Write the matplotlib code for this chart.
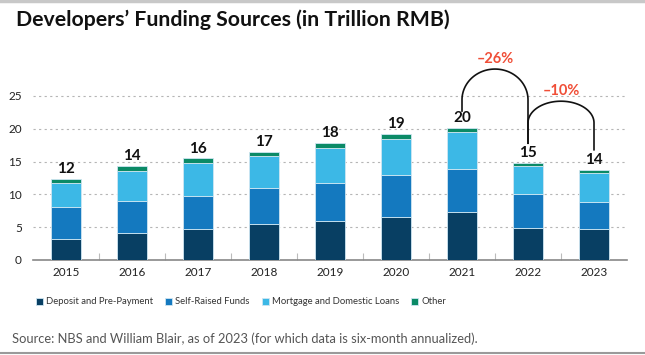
import numpy as np
import matplotlib
matplotlib.use("Agg")
import matplotlib.pyplot as plt
from matplotlib.lines import Line2D

plt.rcParams["font.family"] = ["Lato", "DejaVu Sans"]

years = ["2015", "2016", "2017", "2018", "2019", "2020", "2021", "2022", "2023"]
deposit = [3.2, 4.1, 4.8, 5.5, 6.0, 6.6, 7.3, 4.9, 4.8]
self_raised = [4.9, 4.9, 5.0, 5.5, 5.8, 6.3, 6.6, 5.2, 4.0]
mortgage = [3.7, 4.6, 5.0, 4.8, 5.3, 5.6, 5.6, 4.2, 4.4]
other = [0.6, 0.7, 0.7, 0.7, 0.7, 0.7, 0.6, 0.5, 0.5]
total_labels = ["12", "14", "16", "17", "18", "19", "20", "15", "14"]

series = [
    ("Deposit and Pre-Payment", deposit, "#083f63"),
    ("Self-Raised Funds", self_raised, "#1479bf"),
    ("Mortgage and Domestic Loans", mortgage, "#3cb8e6"),
    ("Other", other, "#0b8a66"),
]

# annotation arcs: (from idx, to idx, start y, end y, peak y, curve height, label, label y)
arcs = [
    (6, 7, 22.7, 17.8, 29.1, 4.7, "\u201326%", 30.6),
    (7, 8, 17.8, 16.8, 24.2, 3.3, "\u201310%", 25.8),
]

fig = plt.figure(figsize=(6.45, 3.55), dpi=100)
ax = fig.add_axes([33 / 645, 1 - 260 / 355, (627 - 33) / 645, 0.5545])

x = np.arange(len(years))
bottom = np.zeros(len(years))
for name, vals, color in series:
    ax.bar(x, vals, width=0.45, bottom=bottom, color=color, label=name,
           edgecolor="#cfe6f2", linewidth=0.6, zorder=3)
    bottom += np.array(vals)

for xi, top, lab in zip(x, bottom, total_labels):
    ax.annotate(lab, (xi, top), xytext=(0, 2), textcoords="offset points",
                ha="center", va="bottom", fontsize=11, fontweight="bold", color="#111111")

for i0, i1, y0, y1, peak, ry, lab, ly in arcs:
    cx = (i0 + i1) / 2
    rx = (i1 - i0) / 2
    t = np.linspace(np.pi, 0, 80)
    xs = cx + rx * np.cos(t)
    ys = (peak - ry) + ry * np.sin(t)
    xs = np.concatenate([[i0], xs, [i1]])
    ys = np.concatenate([[y0], ys, [y1]])
    ax.plot(xs, ys, color="#111111", lw=1.2, clip_on=False, zorder=4)
    ax.text(cx, ly, lab, ha="center", va="center", fontsize=10.5,
            fontweight="bold", color="#f04e37")

ax.set_xlim(-0.5, len(years) - 0.5)
ax.set_ylim(0, 30)
ax.set_yticks([0, 5, 10, 15, 20, 25])
ax.set_xticks(x)
ax.set_xticklabels(years)
ax.set_xticks(np.arange(0.5, len(years) - 1, 1), minor=True)
ax.tick_params(axis="x", which="major", length=0, pad=5, labelsize=8.5, labelcolor="#222222")
ax.tick_params(axis="x", which="minor", direction="in", length=5, color="#bbbbbb", width=0.8)
ax.tick_params(axis="y", length=0, pad=8, labelsize=8.5, labelcolor="#222222")
for y in [5, 10, 15, 20, 25]:
    ax.axhline(y, color="#b5b5b5", lw=0.8, ls=(0, (2, 3)), zorder=1)
for s in ["left", "right", "top"]:
    ax.spines[s].set_visible(False)
ax.spines["bottom"].set_color("#888888")
ax.spines["bottom"].set_linewidth(1.2)

fig.text(16 / 645, 1 - 20 / 355, "Developers\u2019 Funding Sources (in Trillion RMB)",
         fontsize=15.3, fontweight="bold", va="center", ha="left", color="#111111")

leg = fig.legend(loc="center", bbox_to_anchor=(241 / 645, 1 - 302 / 355), ncol=4,
                 frameon=False, fontsize=6.8, handlelength=0.75, handleheight=0.75,
                 handletextpad=0.3, columnspacing=1.3)
for t in leg.get_texts():
    t.set_color("#333333")

fig.text(12 / 645, 1 - 339 / 355,
         "Source: NBS and William Blair, as of 2023 (for which data is six-month annualized).",
         fontsize=9.3, va="center", ha="left", color="#555555")

fig.add_artist(Line2D([0, 1], [1 - 1 / 355, 1 - 1 / 355], color="#c8c8c8", lw=2.5))
fig.add_artist(Line2D([0, 1], [1 - 353 / 355, 1 - 353 / 355], color="#9a9a9a", lw=1.5))

fig.savefig("out.png", dpi=100)
